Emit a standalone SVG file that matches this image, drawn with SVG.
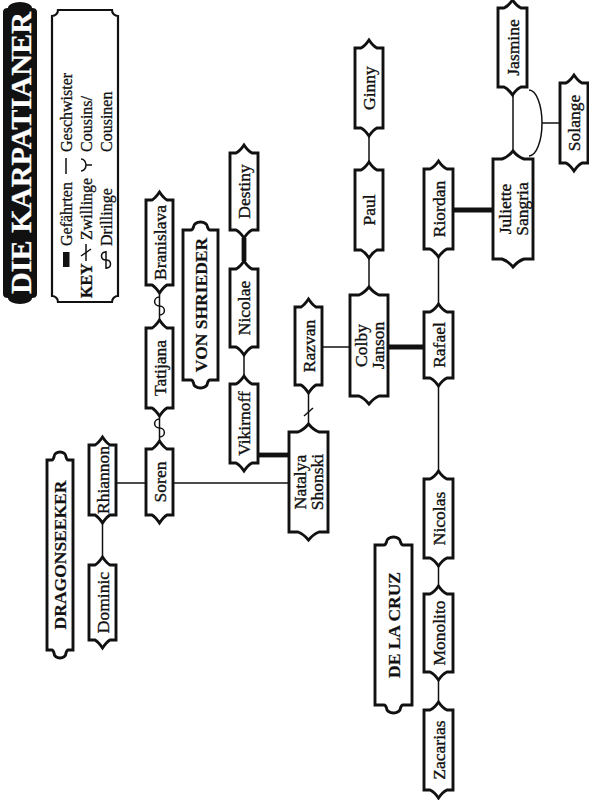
<svg xmlns="http://www.w3.org/2000/svg" width="589" height="800" viewBox="0 0 589 800">
<style>
.bg{fill:#fff}
.node{fill:#fff;stroke:#111;stroke-width:2.9;stroke-linejoin:miter}
.lbl{fill:#fff;stroke:#111;stroke-width:2.9}
.t{font-family:"Liberation Serif","Times New Roman",serif;font-size:17.5px;fill:#111;stroke:#111;stroke-width:0.35;text-anchor:middle;dominant-baseline:central}
.b{font-weight:bold;stroke-width:0.2}
.k{font-family:"Liberation Serif","Times New Roman",serif;font-size:16px;fill:#111;stroke:#111;stroke-width:0.3;text-anchor:start;dominant-baseline:central}
.thin{stroke:#111;stroke-width:1.5;fill:none}
.thick{stroke:#111;stroke-width:4.8;fill:none}
</style>
<rect class="bg" x="0" y="0" width="589" height="800"/>

<g id="title">
<path d="M3,12 Q3,8 8,8 A12,6 0 0 1 32,8 Q37,8 37,12 V294 Q37,298 32,298 A12,6 0 0 1 8,298 Q3,298 3,294 Z" fill="#111"/>
<text class="t b" transform="translate(20,153) rotate(-90)" style="font-size:30px;fill:#fff;stroke:#fff;stroke-width:0.3" textLength="282" lengthAdjust="spacingAndGlyphs">DIE KARPATIANER</text>
</g>

<g id="key">
<path d="M58,10 H112 A6,6 0 0 0 118,16 V296 A6,6 0 0 0 112,302 H58 A6,6 0 0 0 52,296 V16 A6,6 0 0 0 58,10 Z" fill="#fff" stroke="#111" stroke-width="2.2"/>
<text class="k" transform="translate(66,152) rotate(-90)">Geschwister</text>
<line class="thin" x1="66" y1="158" x2="66" y2="174"/>
<text class="k" transform="translate(66,246) rotate(-90)">Gefährten</text>
<rect x="63" y="252" width="6.5" height="15" fill="#111"/>
<text class="k" transform="translate(86,152) rotate(-90)">Cousins/</text>
<path class="thin" d="M81,159 A5,6 0 0 1 81,171 M86,165 H92"/>
<text class="k" transform="translate(86,240) rotate(-90)">Zwillinge</text>
<line class="thin" x1="86" y1="244" x2="86" y2="261"/>
<line class="thin" x1="81" y1="256" x2="91" y2="249"/>
<text class="k b" transform="translate(86,298) rotate(-90)">KEY</text>
<text class="k" transform="translate(106,152) rotate(-90)">Cousinen</text>
<text class="k" transform="translate(106,246) rotate(-90)">Drillinge</text>
<line class="thin" x1="106" y1="251" x2="106" y2="269"/>
<path class="thin" d="M106,252 C100,252 100,260 106,260 C112,260 112,268 106,268"/>
</g>

<g id="connectors">
<line class="thin" x1="102.5" y1="523" x2="102.5" y2="557"/>
<line class="thin" x1="116" y1="483" x2="146" y2="483"/>
<line class="thin" x1="173" y1="483" x2="289" y2="483"/>
<line class="thin" x1="159.5" y1="293" x2="159.5" y2="320"/>
<path class="thin" d="M159.5,297 C153,297 153,306 159.5,306 C166,306 166,315 159.5,315"/>
<line class="thin" x1="159.5" y1="416" x2="159.5" y2="441"/>
<path class="thin" d="M159.5,419 C153,419 153,428 159.5,428 C166,428 166,437 159.5,437"/>
<line class="thick" x1="244" y1="238" x2="244" y2="261"/>
<line class="thin" x1="244" y1="355" x2="244" y2="376"/>
<line class="thick" x1="258" y1="455" x2="289" y2="455"/>
<line class="thin" x1="308.5" y1="393" x2="308.5" y2="424"/>
<line class="thin" x1="304" y1="416" x2="313" y2="408"/>
<line class="thin" x1="322" y1="347" x2="350" y2="347"/>
<line class="thin" x1="369" y1="258" x2="369" y2="287"/>
<line class="thin" x1="369" y1="136" x2="369" y2="162"/>
<line class="thick" x1="388" y1="347" x2="424" y2="347"/>
<line class="thin" x1="438.5" y1="257" x2="438.5" y2="304"/>
<line class="thick" x1="453" y1="210" x2="493" y2="210"/>
<line class="thin" x1="513" y1="95" x2="513" y2="151"/>
<path class="thin" d="M529,90 A13,33 0 0 1 529,156"/>
<line class="thin" x1="542" y1="123" x2="560" y2="123"/>
<line class="thin" x1="438.5" y1="386" x2="438.5" y2="471"/>
<line class="thin" x1="438.5" y1="566" x2="438.5" y2="586"/>
<line class="thin" x1="438.5" y1="680" x2="438.5" y2="702"/>
</g>

<g id="label-dragonseeker">
<path class="lbl" d="M47,460 H52 Q53,460 54,457 A6,5 0 0 1 66,457 Q67,460 68,460 H73 V650 H68 Q67,650 66,653 A6,5 0 0 1 54,653 Q53,650 52,650 H47 Z"/>
<text class="t b" transform="translate(60,555) rotate(-90)">DRAGONSEEKER</text>
</g>
<g id="label-vonshrieder">
<path class="lbl" d="M183,230 H191 Q192.5,230 193.5,227 A7,5 0 0 1 207.5,227 Q208.5,230 210,230 H218 V380 H210 Q208.5,380 207.5,383 A7,5 0 0 1 193.5,383 Q192.5,380 191,380 H183 Z"/>
<text class="t b" transform="translate(200.5,305) rotate(-90)">VON SHRIEDER</text>
</g>
<g id="label-delacruz">
<path class="lbl" d="M375,545 H384 Q385.5,545 386.5,542 A7,5 0 0 1 400.5,542 Q401.5,545 403,545 H412 V705 H403 Q401.5,705 400.5,708 A7,5 0 0 1 386.5,708 Q385.5,705 384,705 H375 Z"/>
<text class="t b" transform="translate(393.5,625) rotate(-90)">DE LA CRUZ</text>
</g>

<g id="dominic"><path class="node" d="M89,565 H95 Q98.5,563 102.5,557 Q106.5,563 110,565 H116 V640 H110 Q106.5,642 102.5,648 Q98.5,642 95,640 H89 Z"/><text class="t" transform="translate(102.5,602.5) rotate(-90)">Dominic</text></g>
<g id="rhiannon"><path class="node" d="M89,445 H95 Q98.5,443 102.5,437 Q106.5,443 110,445 H116 V515 H110 Q106.5,517 102.5,523 Q98.5,517 95,515 H89 Z"/><text class="t" transform="translate(102.5,480) rotate(-90)">Rhiannon</text></g>
<g id="soren"><path class="node" d="M146,449 H152 Q155.5,447 159.5,441 Q163.5,447 167,449 H173 V515 H167 Q163.5,517 159.5,523 Q155.5,517 152,515 H146 Z"/><text class="t" transform="translate(159.5,482) rotate(-90)">Soren</text></g>
<g id="tatijana"><path class="node" d="M146,328 H152 Q155.5,326 159.5,320 Q163.5,326 167,328 H173 V408 H167 Q163.5,410 159.5,416 Q155.5,410 152,408 H146 Z"/><text class="t" transform="translate(159.5,368) rotate(-90)">Tatijana</text></g>
<g id="branislava"><path class="node" d="M146,200 H152 Q155.5,198 159.5,192 Q163.5,198 167,200 H173 V285 H167 Q163.5,287 159.5,293 Q155.5,287 152,285 H146 Z"/><text class="t" transform="translate(159.5,242.5) rotate(-90)">Branislava</text></g>
<g id="destiny"><path class="node" d="M230,153 H236 Q240,151 244,145 Q248,151 252,153 H258 V230 H252 Q248,232 244,238 Q240,232 236,230 H230 Z"/><text class="t" transform="translate(244,191.5) rotate(-90)">Destiny</text></g>
<g id="nicolae"><path class="node" d="M230,269 H236 Q240,267 244,261 Q248,267 252,269 H258 V347 H252 Q248,349 244,355 Q240,349 236,347 H230 Z"/><text class="t" transform="translate(244,308) rotate(-90)">Nicolae</text></g>
<g id="vikirnoff"><path class="node" d="M230,384 H236 Q240,382 244,376 Q248,382 252,384 H258 V463 H252 Q248,465 244,471 Q240,465 236,463 H230 Z"/><text class="t" transform="translate(244,423.5) rotate(-90)">Vikirnoff</text></g>
<g id="natalya"><path class="node" d="M289,432 H298 Q303.5,430 308.5,424 Q313.5,430 319,432 H328 V532 H319 Q313.5,534 308.5,540 Q303.5,534 298,532 H289 Z"/><text class="t" transform="translate(308.5,482) rotate(-90)"><tspan x="0" y="-8.5">Natalya</tspan><tspan x="0" y="8.5">Shonski</tspan></text></g>
<g id="razvan"><path class="node" d="M295,307 H301 Q304.5,305 308.5,299 Q312.5,305 316,307 H322 V385 H316 Q312.5,387 308.5,393 Q304.5,387 301,385 H295 Z"/><text class="t" transform="translate(308.5,346) rotate(-90)">Razvan</text></g>
<g id="colby"><path class="node" d="M350,295 H359 Q364,293 369,287 Q374,293 379,295 H388 V396 H379 Q374,398 369,404 Q364,398 359,396 H350 Z"/><text class="t" transform="translate(369,345.5) rotate(-90)"><tspan x="0" y="-8.5">Colby</tspan><tspan x="0" y="8.5">Janson</tspan></text></g>
<g id="paul"><path class="node" d="M355,170 H361 Q365,168 369,162 Q373,168 377,170 H383 V250 H377 Q373,252 369,258 Q365,252 361,250 H355 Z"/><text class="t" transform="translate(369,210) rotate(-90)">Paul</text></g>
<g id="ginny"><path class="node" d="M355,48 H361 Q365,46 369,40 Q373,46 377,48 H383 V128 H377 Q373,130 369,136 Q365,130 361,128 H355 Z"/><text class="t" transform="translate(369,88) rotate(-90)">Ginny</text></g>
<g id="riordan"><path class="node" d="M424,169 H430 Q434.5,167 438.5,161 Q442.5,167 447,169 H453 V249 H447 Q442.5,251 438.5,257 Q434.5,251 430,249 H424 Z"/><text class="t" transform="translate(438.5,209) rotate(-90)">Riordan</text></g>
<g id="juliette"><path class="node" d="M493,159 H502 Q508,157 513,151 Q518,157 524,159 H533 V259 H524 Q518,261 513,267 Q508,261 502,259 H493 Z"/><text class="t" transform="translate(513,209) rotate(-90)"><tspan x="0" y="-8.5">Juliette</tspan><tspan x="0" y="8.5">Sangria</tspan></text></g>
<g id="jasmine"><path class="node" d="M498,8 H504 Q508.5,6 512.5,0 Q516.5,6 521,8 H527 V87 H521 Q516.5,89 512.5,95 Q508.5,89 504,87 H498 Z"/><text class="t" transform="translate(512.5,47.5) rotate(-90)">Jasmine</text></g>
<g id="solange"><path class="node" d="M560,83 H566 Q570,81 574,75 Q578,81 582,83 H588 V163 H582 Q578,165 574,171 Q570,165 566,163 H560 Z"/><text class="t" transform="translate(574,123) rotate(-90)">Solange</text></g>
<g id="rafael"><path class="node" d="M424,312 H430 Q434.5,310 438.5,304 Q442.5,310 447,312 H453 V378 H447 Q442.5,380 438.5,386 Q434.5,380 430,378 H424 Z"/><text class="t" transform="translate(438.5,345) rotate(-90)">Rafael</text></g>
<g id="nicolas"><path class="node" d="M424,479 H430 Q434.5,477 438.5,471 Q442.5,477 447,479 H453 V558 H447 Q442.5,560 438.5,566 Q434.5,560 430,558 H424 Z"/><text class="t" transform="translate(438.5,518.5) rotate(-90)">Nicolas</text></g>
<g id="monolito"><path class="node" d="M424,594 H430 Q434.5,592 438.5,586 Q442.5,592 447,594 H453 V672 H447 Q442.5,674 438.5,680 Q434.5,674 430,672 H424 Z"/><text class="t" transform="translate(438.5,633) rotate(-90)">Monolito</text></g>
<g id="zacarias"><path class="node" d="M424,710 H430 Q434.5,708 438.5,702 Q442.5,708 447,710 H453 V790 H447 Q442.5,792 438.5,798 Q434.5,792 430,790 H424 Z"/><text class="t" transform="translate(438.5,750) rotate(-90)">Zacarias</text></g>
</svg>
